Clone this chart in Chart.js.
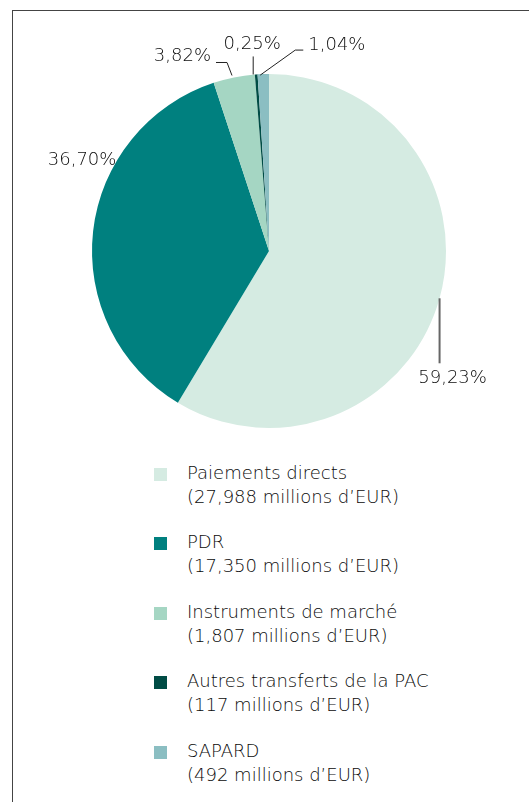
<!DOCTYPE html>
<html>
<head>
<meta charset="utf-8">
<script src="https://cdn.jsdelivr.net/npm/chart.js@4.4.1/dist/chart.umd.min.js"></script>
<style>
  html, body { margin: 0; padding: 0; background: #fff; }
  body { width: 529px; height: 802px; position: relative; overflow: hidden; font-family: "DejaVu Sans", sans-serif; font-weight: 200; color: #0a0a0a; }
  #frame { position: absolute; left: 12px; top: 10px; right: -5px; bottom: -5px; border-left: 1.5px solid #444; border-top: 1.5px solid #444; }
  #wrap { position: absolute; left: 0; top: 0; width: 529px; height: 440px; }
  #legend { position: absolute; left: 154px; top: 460.5px; margin: 0; padding: 0; list-style: none; }
  #legend li { position: relative; height: 69.5px; padding-left: 33px; font-size: 18px; line-height: 24px; white-space: nowrap; }
  #legend li span.box { position: absolute; left: 0; top: 7px; width: 13px; height: 13px; }
</style>
</head>
<body>
<div id="frame"></div>
<div id="wrap"><canvas id="pie_cap"></canvas></div>
<ul id="legend"></ul>
<script>
//Setup data pie

const categories = ["Paiements directs", "PDR", "Instruments de marché", "Autres transferts de la PAC", "SAPARD"]
const amounts = [27988, 17350, 1807, 117, 492]   // millions d'EUR
const pctLabels = ["59,23%", "36,70%", "3,82%", "0,25%", "1,04%"]
const colours = ["#d5ebe2", "#00807f", "#a5d6c3", "#004c45", "#8bbec2"]

const data1 = {
  labels: categories,
  datasets: [{data: amounts, backgroundColor: colours, borderWidth: 0}]
};

//------------------------------------------

//label plugin (percent + leader lines, anchored on the arc edge)
const sliceLabels = {
  id: 'sliceLabels',
  afterDraw(chart, args, options){
    const {ctx} = chart;
    const arcs = chart.getDatasetMeta(0).data;
    ctx.save();
    ctx.font = options.fontWeight + ' ' + options.fontSize + 'px ' + options.fontFamily;
    ctx.fillStyle = options.fontColor;
    ctx.textBaseline = 'middle';
    arcs.forEach((arc, i) => {
      const p = options.place[i];
      const mid = (arc.startAngle + arc.endAngle) / 2;
      const ax = arc.x + Math.cos(mid) * arc.outerRadius;
      const ay = arc.y + Math.sin(mid) * arc.outerRadius;
      if (p.line) {
        ctx.beginPath();
        ctx.strokeStyle = p.lineColor || '#222';
        ctx.lineWidth = p.lineWidth || 1;
        p.line.forEach((pt, k) => {
          if (k == 0) ctx.moveTo(ax + pt[0], ay + pt[1]);
          else ctx.lineTo(ax + pt[0], ay + pt[1]);
        });
        ctx.stroke();
      }
      ctx.textAlign = p.align;
      ctx.fillText(pctLabels[i], ax + p.text[0], ay + p.text[1]);
    });
    ctx.restore();
  }
};

//------------------------------------------

//Configurations pie
const config1 = {
  type: "pie",
  data: data1,
  options: {
    responsive: true,
    maintainAspectRatio: false,
    animation: false,
    layout: {padding: {left: 92, right: 83, top: 74, bottom: 12}},
    plugins: {
      legend: {display: false},
      tooltip: {enabled: false},
      sliceLabels: {
        fontColor: '#0a0a0a',
        fontSize: 18,
        fontWeight: 200,
        fontFamily: '"DejaVu Sans", sans-serif',
        place: [
          {line: [[0, 0], [0, 65]], lineColor: '#666', lineWidth: 2, text: [13, 80], align: 'center'},
          {text: [-11, -71], align: 'center'},
          {line: [[-2, -2], [-7, -15], [-18, -15]], text: [-23, -21], align: 'right'},
          {line: [[-3, 0], [-3, -18]], text: [-4, -30], align: 'center'},
          {line: [[-3, 1], [32, -24], [40, -24]], text: [45, -29], align: 'left'}
        ]
      }
    }
  },
  plugins: [sliceLabels]
};

//------------------------------------------

//Legend (two lines per item)
const legend = document.getElementById("legend")
categories.forEach((c, i) => {
  const li = document.createElement("li")
  li.innerHTML = '<span class="box" style="background:' + colours[i] + '"></span>' + c + '<br>(' + amounts[i].toLocaleString('en-US') + ' millions d\u2019EUR)'
  legend.appendChild(li)
})

//Render pie chart
const pie_cap = new Chart(document.getElementById("pie_cap"), config1);
</script>
</body>
</html>
